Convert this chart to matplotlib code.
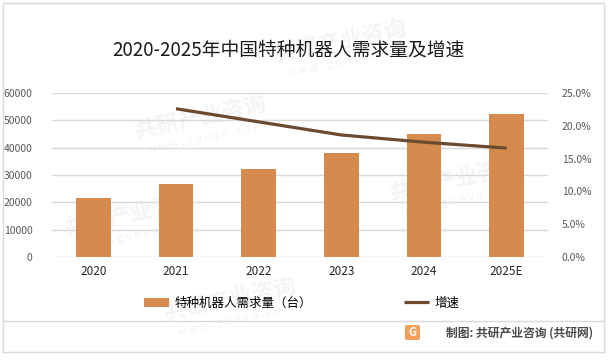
import matplotlib
matplotlib.use("Agg")
import matplotlib.pyplot as plt
from matplotlib.patches import Rectangle, FancyBboxPatch
from matplotlib.ticker import FuncFormatter

plt.rcParams["font.family"] = ["Noto Sans CJK SC", "DejaVu Sans"]

# data
years = ["2020", "2021", "2022", "2023", "2024", "2025E"]
demand = [21600, 26700, 32200, 38100, 45000, 52400]
growth_years = ["2021", "2022", "2023", "2024", "2025E"]
growth = [0.226, 0.206, 0.186, 0.175, 0.166]

title = "2020-2025年中国特种机器人需求量及增速"
bar_label = "特种机器人需求量（台）"
line_label = "增速"
source = "制图: 共研产业咨询 (共研网)"

BAR_C = "#D48B4D"
LINE_C = "#6B4A2F"
GRID_C = "#D9D9D9"

W, H = 610, 362
fig = plt.figure(figsize=(W / 100, H / 100), dpi=100)

def fx(px):
    return px / W

def fy(py):
    return 1 - py / H

# faint watermarks (behind everything)
marks = [(200, 118), (340, 42), (455, 180), (230, 300), (130, 215)]
for x, y in marks:
    fig.text(fx(x), fy(y), "共研产业咨询", fontsize=16, color="#F4F4F4",
             fontweight="bold", rotation=12, ha="center", va="center", zorder=-5)
    fig.text(fx(x + 6), fy(y + 20), "w w w . g o n y n . c o m", fontsize=8, color="#F3F3F3",
             rotation=12, ha="center", va="center", zorder=-5)

# outer frame and separator
fig.add_artist(Rectangle((fx(3), fy(352)), fx(601), 349 / H, transform=fig.transFigure,
                         fill=False, edgecolor=GRID_C, linewidth=1))
fig.add_artist(plt.Line2D([fx(3), fx(604)], [fy(320.5), fy(320.5)], transform=fig.transFigure,
                          color=GRID_C, linewidth=1))

fig.text(fx(288), fy(50), title, fontsize=13.5, ha="center", va="center", color="#1a1a1a")

ax = fig.add_axes([fx(52), fy(257), fx(548 - 52), 164 / H])
ax.patch.set_alpha(0)
x = range(len(years))
bars = ax.bar(x, demand, width=0.42, color=BAR_C, zorder=2, label=bar_label)
ax.set_xlim(-0.5, len(years) - 0.5)
ax.set_ylim(0, 60000)
ax.set_yticks(range(0, 60001, 10000))
ax.set_xticks(list(x))
ax.set_xticklabels(years, fontsize=8.5, color="#262626")
ax.tick_params(axis="y", labelsize=7.5, labelcolor="#595959", length=0, pad=14)
ax.tick_params(axis="x", length=0, pad=6)
ax.grid(axis="y", color=GRID_C, linewidth=1, zorder=0)
for s in ax.spines.values():
    s.set_visible(False)

ax2 = ax.twinx()
gx = [years.index(y) for y in growth_years]
line, = ax2.plot(gx, growth, color=LINE_C, linewidth=2.3, zorder=3, label=line_label,
                 solid_capstyle="butt")
ax2.set_ylim(0, 0.25)
ax2.set_yticks([0, 0.05, 0.10, 0.15, 0.20, 0.25])
ax2.yaxis.set_major_formatter(FuncFormatter(lambda v, p: f"{v * 100:.1f}%"))
ax2.tick_params(axis="y", labelsize=7.5, labelcolor="#595959", length=0, pad=10)
for s in ax2.spines.values():
    s.set_visible(False)

fig.legend([bars, line], [bar_label, line_label], loc="center left",
           bbox_to_anchor=(fx(138), fy(303)), ncol=2, frameon=False, fontsize=9,
           borderpad=0, handlelength=2.0, handletextpad=0.4, columnspacing=7.4)

# source logo and text
fig.add_artist(FancyBboxPatch((fx(405), fy(340)), fx(15), 15 / H,
                              boxstyle="round,pad=0,rounding_size=0.004",
                              transform=fig.transFigure, facecolor="#F5A05A", edgecolor="none"))
fig.text(fx(412.5), fy(332.5), "G", fontsize=8, fontweight="bold", color="white",
         ha="center", va="center")
fig.text(fx(593), fy(333), source, fontsize=8.5, fontweight="bold", color="#4a4a4a",
         ha="right", va="center")

fig.savefig("out.png", dpi=100)
